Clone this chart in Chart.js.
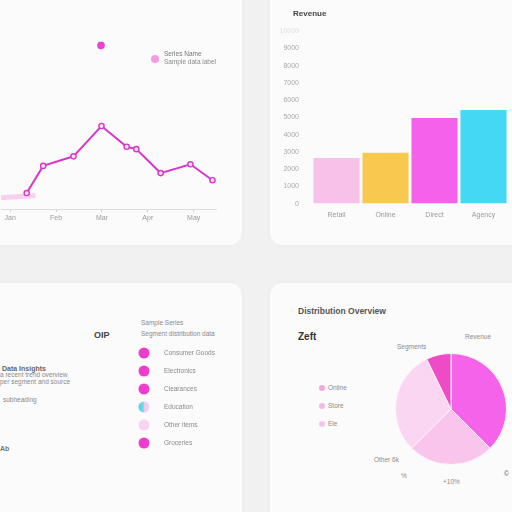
<!DOCTYPE html>
<html>
<head>
<meta charset="utf-8">
<script src="https://cdn.jsdelivr.net/npm/chart.js@4.4.0/dist/chart.umd.min.js"></script>
<style>
  html, body { margin: 0; padding: 0; }
  body {
    width: 512px; height: 512px; overflow: hidden; position: relative;
    background: #f1f1f1; font-family: "Liberation Sans", Arial, sans-serif;
  }
  .card { position: absolute; background: #fbfbfb; border-radius: 12px; box-shadow: 0 0 4px rgba(0,0,0,0.04); }
  canvas { position: absolute; }
  .t { position: absolute; white-space: nowrap; color: #8a8a8a; font-size: 6.5px; line-height: 1; }
  .b { color: #444; font-weight: bold; }
  .dot { position: absolute; border-radius: 50%; }
</style>
</head>
<body>
<div class="card" style="left:-12px;top:-12px;width:254px;height:257px"></div>
<div class="card" style="left:270px;top:-12px;width:260px;height:257px"></div>
<div class="card" style="left:-12px;top:283px;width:254px;height:240px"></div>
<div class="card" style="left:270px;top:283px;width:260px;height:240px"></div>

<canvas id="lineCanvas" width="234" height="189" style="left:-12px;top:36px"></canvas>
<div class="dot" style="left:151px;top:55px;width:8px;height:8px;background:#f59ae0"></div>
<div class="t" style="left:164px;top:51px;color:#777">Series Name</div>
<div class="t" style="left:164px;top:59px">Sample data label</div>

<div class="t b" style="left:293px;top:10px;font-size:8px">Revenue</div>
<canvas id="barCanvas" width="230" height="210" style="left:278px;top:22px"></canvas>

<div class="t b" style="left:94px;top:331px;font-size:9px">OIP</div>
<div class="t b" style="left:2px;top:365px;font-size:7px;color:#666">Data Insights</div>
<div class="t" style="left:0px;top:372px">a recent trend overview</div>
<div class="t" style="left:0px;top:379px">per segment and source</div>
<div class="t" style="left:3px;top:397px">subheading</div>
<div class="t b" style="left:0px;top:445px;font-size:7px;color:#777">Ab</div>
<div class="t" style="left:141px;top:320px">Sample Series</div>
<div class="t" style="left:141px;top:331px">Segment distribution data</div>
<canvas id="listCanvas" width="90" height="110" style="left:130px;top:343px"></canvas>

<div class="t b" style="left:298px;top:307px;font-size:8.5px;color:#555">Distribution Overview</div>
<div class="t b" style="left:298px;top:332px;font-size:10px;color:#333">Zeft</div>
<div class="dot" style="left:319px;top:385px;width:6px;height:6px;background:#f2a6da"></div>
<div class="t" style="left:328px;top:385px">Online</div>
<div class="dot" style="left:319px;top:403px;width:6px;height:6px;background:#f5b8e2"></div>
<div class="t" style="left:328px;top:403px">Store</div>
<div class="dot" style="left:319px;top:421px;width:6px;height:6px;background:#f6c4e7"></div>
<div class="t" style="left:328px;top:421px">Ele</div>
<div class="t" style="left:465px;top:334px">Revenue</div>
<div class="t" style="left:397px;top:344px">Segments</div>
<div class="t" style="left:374px;top:457px">Other 6k</div>
<div class="t" style="left:401px;top:473px">%</div>
<div class="t" style="left:443px;top:479px">+10%</div>
<div class="t" style="left:504px;top:471px;color:#555">©</div>
<canvas id="pieCanvas" width="112" height="112" style="left:395px;top:353px"></canvas>

<script>
// line chart (top left)
const lineTicks = ["Jan", "Feb", "Mar", "Apr", "May"];
const lineX = [0.36, 0.72, 1.38, 1.99, 2.54, 2.75, 3.28, 3.93, 4.41];
const lineY = [10, 27, 33, 52, 39, 37.5, 22.5, 28, 18];
const fadeX = [-0.2, 0.55];
const fadeY = [7, 8.5];
const peakX = [1.98];
const peakY = [102.5];

// bar chart (top right)
const barLabels = ["Retail", "Online", "Direct", "Agency"];
const barValues = [2650, 2950, 4970, 5430];
const barColors = ["#f8c1ea", "#f8c94e", "#f661ec", "#43d9f5"];

// legend list (bottom left)
const listLabels = ["Consumer Goods", "Electronics", "Clearances", "Education", "Other items", "Groceries"];
const listFill = ["#ee3dcc", "#ee3dcc", "#ee3dcc", "split", "#f8d4f0", "#ee3dcc"];

// pie chart (bottom right)
const pieLabels = ["Revenue", "Online", "Store", "Segments"];
const pieValues = [37.5, 25, 30.3, 7.2];
const pieColors = ["#f563eb", "#f9c5ec", "#fad6f2", "#ee4cc6"];

Chart.defaults.font.family = "Liberation Sans";
Chart.defaults.font.size = 7;
Chart.defaults.color = "#9a9a9a";
Chart.defaults.animation = false;
Chart.defaults.plugins.legend.display = false;
Chart.defaults.plugins.tooltip.enabled = false;

const pts = (xs, ys) => xs.map((x, i) => ({ x: x, y: ys[i] }));

new Chart(document.getElementById("lineCanvas"), {
    type: "line",
    data: {
        datasets: [
            {
                data: pts(lineX, lineY),
                borderColor: "#d936c9",
                borderWidth: 2,
                pointRadius: 2.6,
                pointBorderWidth: 1.4,
                pointBorderColor: "#d936c9",
                pointBackgroundColor: "#fbe3f6",
            },
            {
                data: pts(fadeX, fadeY),
                borderColor: "rgba(246,180,228,0.6)",
                borderWidth: 5,
                pointRadius: 0,
            },
            {
                data: pts(peakX, peakY),
                showLine: false,
                pointRadius: 3.8,
                pointBorderWidth: 0,
                pointBackgroundColor: "#ef3fd0",
            },
        ],
    },
    options: {
        responsive: false,
        layout: { padding: { left: 13, right: 5, top: 5, bottom: 0 } },
        scales: {
            x: {
                type: "linear",
                min: -0.2,
                max: 4.5,
                afterFit: (axis) => { axis.height = 16; },
                grid: { drawOnChartArea: false, color: "#cfcfcf", tickLength: 3 },
                border: { color: "#dcdcdc" },
                ticks: {
                    stepSize: 1,
                    includeBounds: false,
                    padding: 2,
                    callback: (v) => lineTicks[v] ?? "",
                },
            },
            y: { display: false, min: 0, max: 105 },
        },
    },
});

new Chart(document.getElementById("barCanvas"), {
    type: "bar",
    data: {
        labels: barLabels,
        datasets: [
            {
                data: barValues,
                backgroundColor: barColors,
                barPercentage: 0.94,
                categoryPercentage: 1,
            },
        ],
    },
    options: {
        responsive: false,
        layout: { padding: { left: 0, right: 0, top: 8, bottom: 6 } },
        scales: {
            x: {
                grid: { display: false, drawTicks: false },
                border: { display: false },
                ticks: { padding: 7, maxRotation: 0 },
            },
            y: {
                min: 0,
                max: 10000,
                afterFit: (axis) => { axis.width = 34; },
                grid: { display: false },
                border: { display: false },
                ticks: {
                    stepSize: 1000,
                    padding: 5,
                    color: (c) => (c.tick && c.tick.value === 10000 ? "#dddddd" : "#aaaaaa"),
                    callback: (v) => String(v),
                },
            },
        },
    },
});

// half cyan / half pink marker, like the reference
function listColor(ctx) {
    const c = listFill[ctx.dataIndex];
    if (c !== "split") return c;
    const px = ctx.chart.scales.x ? ctx.chart.scales.x.getPixelForValue(0) : NaN;
    if (!isFinite(px)) return "#f3c9ee";
    const g = ctx.chart.ctx.createLinearGradient(px - 5.5, 0, px + 5.5, 0);
    g.addColorStop(0, "#3fd4e8");
    g.addColorStop(0.45, "#7fdcec");
    g.addColorStop(0.55, "#f3c9ee");
    g.addColorStop(1, "#f6d3f2");
    return g;
}

new Chart(document.getElementById("listCanvas"), {
    type: "scatter",
    data: {
        datasets: [
            {
                data: listLabels.map((l) => ({ x: 0, y: l })),
                pointRadius: 5.5,
                pointBorderWidth: 0,
                pointBackgroundColor: listColor,
            },
        ],
    },
    options: {
        responsive: false,
        clip: false,
        layout: { padding: { left: 8, right: 0, top: 10, bottom: 10 } },
        scales: {
            x: { display: false, min: -1, max: 1 },
            y: {
                type: "category",
                labels: listLabels,
                position: "right",
                offset: false,
                afterFit: (axis) => { axis.width = 70; },
                grid: { display: false },
                border: { display: false },
                ticks: { padding: 6, color: "#8a8a8a", font: { size: 6.5 } },
            },
        },
    },
});

new Chart(document.getElementById("pieCanvas"), {
    type: "pie",
    data: {
        labels: pieLabels,
        datasets: [
            {
                data: pieValues,
                backgroundColor: pieColors,
                borderColor: "#fdf3fb",
                borderWidth: 1,
            },
        ],
    },
    options: { responsive: false },
});
</script>
</body>
</html>
